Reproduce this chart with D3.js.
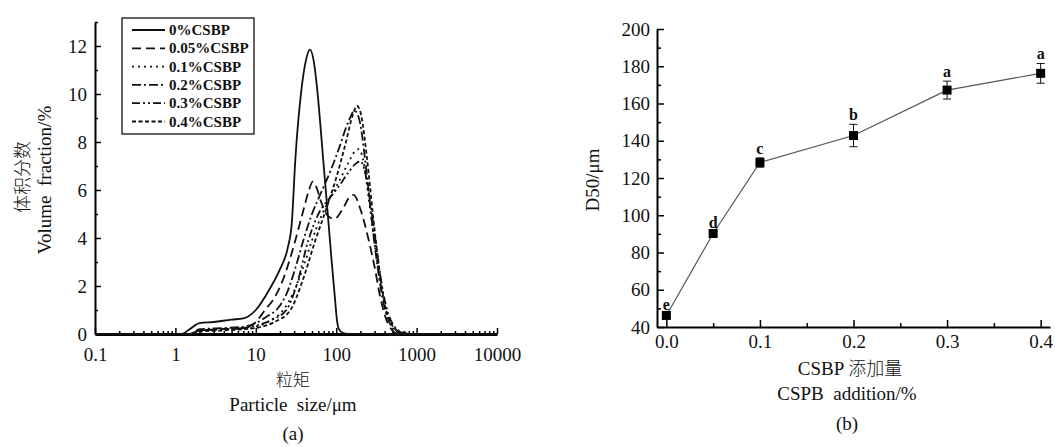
<!DOCTYPE html>
<html>
<head>
<meta charset="utf-8">
<script src="https://cdn.jsdelivr.net/npm/d3@7"></script>
<style>
  body { margin: 0; background: #fff; }
  svg text { font-family: "Liberation Serif", "Times New Roman", serif; fill: #111; white-space: pre; }
  .cjk { font-family: "Noto Sans CJK SC", sans-serif; font-weight: 300; }
</style>
</head>
<body>
<div class="container"></div>
<script>
// ---- data: particle size distribution (a) ----
const seriesNames = ["0%CSBP", "0.05%CSBP", "0.1%CSBP", "0.2%CSBP", "0.3%CSBP", "0.4%CSBP"]
const dashes = ["none", "9,5", "2,4", "9,3,2,3", "8,3,2,3,2,3", "4,2.5"]

const size0 = [0.1, 1.2, 1.5, 2, 3, 5, 7, 10, 15, 20, 25, 28, 31, 37, 42, 47, 53, 58, 69, 79, 88, 97, 102, 108, 120, 140, 10000]
const vol0  = [0, 0, 0.2, 0.45, 0.5, 0.6, 0.65, 1.0, 1.9, 2.7, 3.6, 4.6, 7.25, 10.2, 11.4, 11.85, 11.3, 10.2, 7.25, 4.9, 3.0, 1.4, 0.6, 0.2, 0.05, 0, 0]

const size05 = [0.1, 1.5, 2, 4, 7, 10, 13, 17, 22, 27, 31, 38, 45, 51, 57, 65, 80, 95, 120, 150, 165, 200, 250, 300, 350, 420, 500, 600, 10000]
const vol05  = [0, 0, 0.15, 0.2, 0.25, 0.5, 1.0, 1.5, 2.3, 3.2, 3.9, 5.0, 5.9, 6.35, 6.1, 5.5, 4.9, 4.8, 5.2, 5.75, 5.8, 5.2, 4.0, 2.8, 1.6, 0.6, 0.15, 0, 0]

const size1 = [0.1, 1.5, 2, 4, 7, 10, 15, 22, 30, 40, 50, 65, 85, 110, 140, 170, 190, 215, 250, 300, 350, 420, 500, 600, 750, 10000]
const vol1  = [0, 0, 0.15, 0.2, 0.2, 0.3, 0.55, 1.0, 1.8, 2.9, 3.9, 4.9, 5.7, 6.4, 7.1, 7.6, 7.7, 7.3, 5.8, 3.8, 2.2, 0.9, 0.35, 0.1, 0, 0]

const size2 = [0.1, 1.5, 2, 4, 7, 10, 14, 18, 25, 32, 39, 50, 65, 85, 110, 140, 170, 195, 230, 280, 330, 400, 480, 580, 700, 10000]
const vol2  = [0, 0, 0.2, 0.25, 0.3, 0.45, 0.75, 1.0, 1.8, 2.9, 3.9, 5.0, 5.9, 6.8, 7.8, 8.8, 9.3, 8.9, 7.2, 4.6, 2.7, 1.1, 0.35, 0.08, 0, 0]

const size3 = [0.1, 1.5, 2, 4, 7, 10, 16, 24, 32, 45, 60, 80, 105, 140, 175, 200, 230, 270, 320, 380, 450, 550, 700, 850, 10000]
const vol3  = [0, 0, 0.15, 0.2, 0.25, 0.35, 0.6, 1.0, 2.0, 3.9, 5.0, 5.6, 6.1, 6.7, 7.1, 7.2, 6.7, 5.3, 3.5, 1.8, 0.8, 0.25, 0.05, 0, 0]

const size4 = [0.1, 1.5, 2, 4, 7, 10, 17, 27, 38, 55, 75, 100, 130, 160, 182, 205, 240, 290, 340, 410, 500, 620, 800, 10000]
const vol4  = [0, 0, 0.1, 0.15, 0.2, 0.25, 0.5, 1.0, 2.2, 3.9, 5.2, 6.5, 7.9, 9.1, 9.5, 9.1, 7.4, 4.8, 2.8, 1.1, 0.35, 0.08, 0, 0]

const sizes = [size0, size05, size1, size2, size3, size4]
const vols = [vol0, vol05, vol1, vol2, vol3, vol4]

const xTicksA = [0.1, 1, 10, 100, 1000, 10000]
const yTicksA = [0, 2, 4, 6, 8, 10, 12]

// ---- data: D50 vs CSBP addition (b) ----
const addition = [0, 0.05, 0.1, 0.2, 0.3, 0.4]
const d50 = [46.2, 90.2, 128.3, 142.8, 167.2, 176.2]
const d50Err = [1.0, 1.0, 2.5, 6.0, 4.8, 5.3]
const letters = ["e", "d", "c", "b", "a", "a"]

const xTicksB = [0, 0.1, 0.2, 0.3, 0.4]
const yTicksB = [40, 60, 80, 100, 120, 140, 160, 180, 200]

const svg = d3.select("div.container").append("svg")
    .attr("width", 1055)
    .attr("height", 447)

// ================= chart (a) =================
const xA = d3.scaleLog().domain([0.1, 10000]).range([95, 497])
const yA = d3.scaleLinear().domain([0, 13]).range([334, 22])

const gA = svg.append("g")

// minor ticks
gA.append("g")
    .attr("transform", "translate(0,334)")
    .call(d3.axisBottom(xA).tickValues(xA.ticks().filter(d => xTicksA.indexOf(d) < 0))
        .tickSize(-3).tickFormat(""))
    .call(g => g.select(".domain").remove())
gA.append("g")
    .attr("transform", "translate(95,0)")
    .call(d3.axisLeft(yA).tickValues(d3.range(1, 14, 2)).tickSize(-3).tickFormat(""))
    .call(g => g.select(".domain").remove())

// major ticks + labels
const axA = gA.append("g")
    .attr("transform", "translate(0,334)")
    .call(d3.axisBottom(xA).tickValues(xTicksA).tickSize(-6).tickPadding(10)
        .tickFormat(d3.format("~g")).tickSizeOuter(0))
const ayA = gA.append("g")
    .attr("transform", "translate(95,0)")
    .call(d3.axisLeft(yA).tickValues(yTicksA).tickSize(-6).tickPadding(8).tickSizeOuter(0))

axA.select(".domain").attr("stroke-width", 3)
ayA.select(".domain").attr("stroke-width", 2)
gA.selectAll(".tick line").attr("stroke-width", 1.5)
gA.selectAll(".tick text").attr("font-size", 19).attr("font-family", "Liberation Serif")
axA.selectAll(".tick text").attr("dy", "0.92em")

// curves
const lineA = d3.line()
    .x(d => xA(d[0]))
    .y(d => yA(d[1]))
    .curve(d3.curveMonotoneX)

seriesNames.forEach((name, i) => {
    gA.append("path")
        .datum(d3.zip(sizes[i], vols[i]))
        .attr("d", lineA)
        .attr("fill", "none")
        .attr("stroke", "#111")
        .attr("stroke-width", 1.8)
        .attr("stroke-dasharray", dashes[i])
})

// legend
const legend = gA.append("g")
legend.append("rect")
    .attr("x", 122).attr("y", 18).attr("width", 132).attr("height", 116)
    .attr("fill", "#fff").attr("stroke", "#111").attr("stroke-width", 1.3)
seriesNames.forEach((name, i) => {
    const y = 30 + i * 18.3
    legend.append("line")
        .attr("x1", 132).attr("x2", 165).attr("y1", y).attr("y2", y)
        .attr("stroke", "#111").attr("stroke-width", 1.8)
        .attr("stroke-dasharray", dashes[i])
    legend.append("text")
        .attr("x", 169).attr("y", y + 5)
        .attr("font-size", 15).attr("font-weight", "bold")
        .text(name)
})

// axis titles
gA.append("text").attr("class", "cjk")
    .attr("x", 293).attr("y", 386).attr("text-anchor", "middle").attr("font-size", 17)
    .text("粒矩")
gA.append("text")
    .attr("x", 293).attr("y", 411).attr("text-anchor", "middle").attr("font-size", 19)
    .text("Particle  size/μm")
gA.append("text")
    .attr("x", 293).attr("y", 440).attr("text-anchor", "middle").attr("font-size", 19)
    .text("(a)")
gA.append("text").attr("class", "cjk")
    .attr("transform", "translate(29,177) rotate(-90)")
    .attr("text-anchor", "middle").attr("font-size", 18)
    .text("体积分数")
gA.append("text")
    .attr("transform", "translate(51,180) rotate(-90)")
    .attr("text-anchor", "middle").attr("font-size", 19)
    .text("Volume  fraction/%")

// ================= chart (b) =================
const xB = d3.scaleLinear().domain([-0.01, 0.41]).range([657, 1050])
const yB = d3.scaleLinear().domain([40, 200]).range([327, 29])

const gB = svg.append("g")

gB.append("g")
    .attr("transform", "translate(0,327)")
    .call(d3.axisBottom(xB).tickValues([0.05, 0.15, 0.25, 0.35]).tickSize(-4).tickFormat(""))
    .call(g => g.select(".domain").remove())
gB.append("g")
    .attr("transform", "translate(657,0)")
    .call(d3.axisLeft(yB).tickValues(d3.range(50, 200, 20)).tickSize(-4).tickFormat(""))
    .call(g => g.select(".domain").remove())

const axB = gB.append("g")
    .attr("transform", "translate(0,327)")
    .call(d3.axisBottom(xB).tickValues(xTicksB).tickSize(-7).tickPadding(10)
        .tickFormat(d3.format(".1f")).tickSizeOuter(0))
const ayB = gB.append("g")
    .attr("transform", "translate(657,0)")
    .call(d3.axisLeft(yB).tickValues(yTicksB).tickSize(-7).tickPadding(7).tickSizeOuter(0))

axB.select(".domain").attr("stroke-width", 2)
ayB.select(".domain").attr("stroke-width", 2)
gB.selectAll(".tick line").attr("stroke-width", 1.5)
gB.selectAll(".tick text").attr("font-size", 19).attr("font-family", "Liberation Serif")
axB.selectAll(".tick text").attr("dy", "0.6em")

const pts = d3.zip(addition, d50, d50Err, letters)

gB.append("path")
    .datum(pts)
    .attr("d", d3.line().x(d => xB(d[0])).y(d => yB(d[1])))
    .attr("fill", "none").attr("stroke", "#555").attr("stroke-width", 1.2)

// error bars
const eb = gB.selectAll(".err").data(pts).enter().append("g").attr("class", "err")
eb.append("line")
    .attr("x1", d => xB(d[0])).attr("x2", d => xB(d[0]))
    .attr("y1", d => yB(d[1] - d[2])).attr("y2", d => yB(d[1] + d[2]))
    .attr("stroke", "#111").attr("stroke-width", 1)
eb.selectAll(".cap").data(d => [[d[0], d[1] - d[2]], [d[0], d[1] + d[2]]])
    .enter().append("line")
    .attr("x1", d => xB(d[0]) - 4).attr("x2", d => xB(d[0]) + 4)
    .attr("y1", d => yB(d[1])).attr("y2", d => yB(d[1]))
    .attr("stroke", "#111").attr("stroke-width", 1)

gB.selectAll(".pt").data(pts).enter().append("rect")
    .attr("x", d => xB(d[0]) - 4.5).attr("y", d => yB(d[1]) - 4.5)
    .attr("width", 9).attr("height", 9).attr("fill", "#000")

gB.selectAll(".lbl").data(pts).enter().append("text")
    .attr("x", d => xB(d[0])).attr("y", d => yB(d[1] + d[2]) - 4)
    .attr("text-anchor", "middle").attr("font-size", 16).attr("font-weight", "bold")
    .text(d => d[3])

gB.append("text")
    .attr("transform", "translate(599,180) rotate(-90)")
    .attr("text-anchor", "middle").attr("font-size", 19)
    .text("D50/μm")
const tB = gB.append("text")
    .attr("x", 850).attr("y", 375).attr("text-anchor", "middle").attr("font-size", 19)
tB.append("tspan").text("CSBP ")
tB.append("tspan").attr("class", "cjk").attr("font-size", 18).text("添加量")
gB.append("text")
    .attr("x", 847).attr("y", 400).attr("text-anchor", "middle").attr("font-size", 19)
    .text("CSPB  addition/%")
gB.append("text")
    .attr("x", 847).attr("y", 430).attr("text-anchor", "middle").attr("font-size", 19)
    .text("(b)")
</script>
</body>
</html>
